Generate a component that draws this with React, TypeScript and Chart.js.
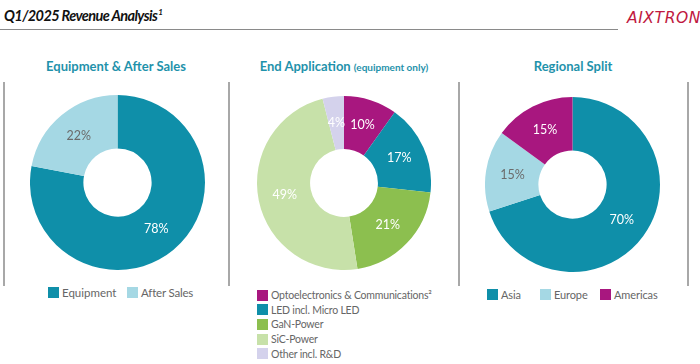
import React, { useEffect, useRef } from "react";
import { Chart, registerables } from "chart.js";

Chart.register(...registerables);

// ---- data ----
const eqLabels = ["Equipment", "After Sales"];
const eqValues = [78, 22];

const appLabels = [
  "Optoelectronics & Communications²",
  "LED incl. Micro LED",
  "GaN-Power",
  "SiC-Power",
  "Other incl. R&D",
];
const appValues = [10, 17, 21, 49, 4];

const regLabels = ["Asia", "Europe", "Americas"];
const regValues = [70, 15, 15];

// ---- styles ----
const TEAL = "#0f8fa9";
const LIGHTBLUE = "#a5d8e4";
const MAGENTA = "#a8177f";
const GREEN = "#8cbf4f";
const LIGHTGREEN = "#c7e1a9";
const LAVENDER = "#d4d2ec";
const TITLE_TEAL = "#1f92ab";
const GRAY_TEXT = "#666666";
const FONT = "Lato, 'Open Sans', sans-serif";

const eqColors = [TEAL, LIGHTBLUE];
const eqLabelColors = ["#ffffff", "#6b6b6b"];
const appColors = [MAGENTA, TEAL, GREEN, LIGHTGREEN, LAVENDER];
const appLabelColors = ["#ffffff", "#ffffff", "#ffffff", "#ffffff", "#ffffff"];
const regColors = [TEAL, LIGHTBLUE, MAGENTA];
const regLabelColors = ["#ffffff", "#6b6b6b", "#ffffff"];

const pctPlugin = {
  id: "pct",
  afterDatasetsDraw(chart: any, _args: any, opts: any) {
    const ctx = chart.ctx;
    const meta = chart.getDatasetMeta(0);
    const ds = chart.data.datasets[0];
    ctx.save();
    ctx.font = `12.5px ${FONT}`;
    ctx.textAlign = "center";
    ctx.textBaseline = "middle";
    meta.data.forEach((arc: any, i: number) => {
      const p = arc.tooltipPosition(false);
      ctx.fillStyle = (opts.colors && opts.colors[i]) || "#fff";
      ctx.fillText(`${ds.data[i]}%`, p.x, p.y);
    });
    ctx.restore();
  },
};

type DonutProps = {
  labels: string[];
  values: number[];
  colors: string[];
  labelColors: string[];
  cx: number;
  cy: number;
  size: number;
};

function Donut({ labels, values, colors, labelColors, cx, cy, size }: DonutProps) {
  const ref = useRef<HTMLCanvasElement | null>(null);
  useEffect(() => {
    if (!ref.current) return;
    const chart = new Chart(ref.current, {
      type: "doughnut",
      data: {
        labels,
        datasets: [
          {
            data: values,
            backgroundColor: colors,
            borderWidth: 0,
            hoverOffset: 0,
          },
        ],
      },
      options: {
        animation: false,
        responsive: false,
        devicePixelRatio: 1,
        cutout: "39%",
        layout: { padding: 0 },
        events: [],
        plugins: {
          legend: { display: false },
          tooltip: { enabled: false },
          pct: { colors: labelColors },
        } as any,
      },
      plugins: [pctPlugin as any],
    });
    return () => chart.destroy();
  }, []);
  return (
    <canvas
      ref={ref}
      width={size}
      height={size}
      style={{
        position: "absolute",
        left: cx - size / 2,
        top: cy - size / 2,
        width: size,
        height: size,
      }}
    />
  );
}

function LegendItem({
  x,
  y,
  color,
  text,
  fontSize = 11.5,
  spacing = 0,
}: {
  x: number;
  y: number;
  color: string;
  text: string;
  fontSize?: number;
  spacing?: number;
}) {
  return (
    <div
      style={{
        position: "absolute",
        left: x,
        top: y,
        display: "flex",
        alignItems: "center",
        whiteSpace: "nowrap",
        font: `${fontSize}px ${FONT}`,
        letterSpacing: spacing,
        color: GRAY_TEXT,
        height: 12,
      }}
    >
      <span style={{ display: "inline-block", width: 11, height: 11, background: color, marginRight: 3 }} />
      <span>{text}</span>
    </div>
  );
}

function Divider({ x }: { x: number }) {
  return (
    <div
      style={{
        position: "absolute",
        left: x,
        top: 82,
        width: 1.5,
        height: 204,
        background: "#a8a8a8",
      }}
    />
  );
}

function PanelTitle({ cx, children }: { cx: number; children: React.ReactNode }) {
  return (
    <div
      style={{
        position: "absolute",
        left: cx - 120,
        width: 240,
        top: 58,
        textAlign: "center",
        font: `bold 13px ${FONT}`,
        color: TITLE_TEAL,
        whiteSpace: "nowrap",
      }}
    >
      {children}
    </div>
  );
}

export default function App() {
  return (
    <div
      style={{
        position: "absolute",
        left: 0,
        top: 0,
        width: 700,
        height: 364,
        background: "#ffffff",
        overflow: "hidden",
        fontFamily: FONT,
      }}
    >
      {/* header */}
      <div
        style={{
          position: "absolute",
          left: 4,
          top: 7,
          font: `italic bold 14.5px ${FONT}`,
          letterSpacing: -0.6,
          color: "#111",
          whiteSpace: "nowrap",
        }}
      >
        Q1/2025 Revenue Analysis
        <sup style={{ fontSize: 8, marginLeft: 1 }}>1</sup>
      </div>
      <div style={{ position: "absolute", left: 0, top: 29, width: 618, height: 1, background: "#8a8a8a" }} />
      <div
        style={{
          position: "absolute",
          left: 627,
          top: 9,
          font: `italic 15.5px 'DejaVu Sans', sans-serif`,
          letterSpacing: 0.6,
          color: "#c01840",
          whiteSpace: "nowrap",
        }}
      >
        AIXTRON
      </div>

      {/* dividers */}
      <Divider x={3} />
      <Divider x={228} />
      <Divider x={458} />
      <Divider x={687} />

      {/* titles */}
      <PanelTitle cx={116}>Equipment &amp; After Sales</PanelTitle>
      <PanelTitle cx={344}>
        End Application <span style={{ fontSize: 10 }}>(equipment only)</span>
      </PanelTitle>
      <PanelTitle cx={573}>Regional Split</PanelTitle>

      {/* charts */}
      <Donut labels={eqLabels} values={eqValues} colors={eqColors} labelColors={eqLabelColors} cx={117} cy={182} size={175} />
      <Donut labels={appLabels} values={appValues} colors={appColors} labelColors={appLabelColors} cx={344} cy={183} size={174} />
      <Donut labels={regLabels} values={regValues} colors={regColors} labelColors={regLabelColors} cx={572} cy={184} size={175} />

      {/* legends */}
      <LegendItem x={48} y={286} color={eqColors[0]} text={eqLabels[0]} />
      <LegendItem x={127} y={286} color={eqColors[1]} text={eqLabels[1]} fontSize={11.5} spacing={-0.2} />

      {appLabels.map((l, i) => (
        <LegendItem key={l} x={257} y={289 + i * 14.7} color={appColors[i]} text={l} fontSize={10.5} spacing={-0.2} />
      ))}

      <LegendItem x={487} y={288} color={regColors[0]} text={regLabels[0]} fontSize={11} spacing={-0.1} />
      <LegendItem x={540} y={288} color={regColors[1]} text={regLabels[1]} fontSize={11} spacing={-0.1} />
      <LegendItem x={600} y={288} color={regColors[2]} text={regLabels[2]} fontSize={11} spacing={-0.1} />
    </div>
  );
}
